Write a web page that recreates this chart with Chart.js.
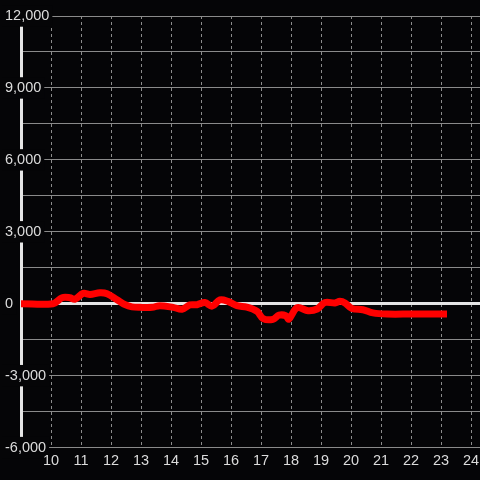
<!DOCTYPE html>
<html>
<head>
<meta charset="utf-8">
<script src="https://cdn.jsdelivr.net/npm/chart.js@4/dist/chart.umd.min.js"></script>
<style>
  html, body { margin: 0; padding: 0; background: #050507; }
  canvas { display: block; }
</style>
</head>
<body>
<canvas id="chart" width="480" height="480"></canvas>
<script>
// hour of day and running balance
const hours = [9.0, 10.07, 10.37, 10.63, 10.8, 11.07, 11.3, 11.63, 11.87, 12.2, 12.47, 12.7, 12.97, 13.37, 13.63,
    14.07, 14.37, 14.63, 14.87, 15.13, 15.37, 15.63, 15.9, 16.2, 16.53, 16.87, 17.07, 17.4, 17.6, 17.83, 17.93,
    18.2, 18.57, 18.87, 19.13, 19.47, 19.63, 19.8, 20.03, 20.4, 20.73, 21.2, 22.0, 23.2];
const balance = [0, 0, 250, 250, 190, 430, 390, 460, 420, 170, -40, -130, -150, -150, -80,
    -150, -230, -50, -40, 50, -100, 160, 100, -80, -140, -320, -620, -650, -480, -500, -640,
    -170, -290, -220, 50, 30, 100, 30, -200, -250, -380, -430, -430, -430];

const yMin = -6000;
const yMax = 12000;
const yStep = 1500;
const xMin = 9;
const xMax = 24.3;

const bg = '#050507';
const textColor = '#dcdcdc';

const ctx = document.getElementById('chart').getContext('2d');
const chart = new Chart(ctx, {
    type: 'line',
    data: {
        datasets: [{
            data: hours.map((h, i) => ({ x: h, y: balance[i] })),
            borderColor: '#ff0000',
            borderWidth: 7,
            pointRadius: 0,
            tension: 0.35,
            borderJoinStyle: 'round',
            fill: false
        }]
    },
    options: {
        responsive: false,
        animation: false,
        layout: { padding: { left: 5, top: 16, right: 0, bottom: 5 } },
        plugins: {
            legend: { display: false },
            tooltip: { enabled: false }
        },
        scales: {
            x: {
                type: 'linear',
                min: xMin,
                max: xMax,
                afterFit: (axis) => { axis.paddingLeft = 0; axis.paddingRight = 0; },
                grid: {
                    color: (c) => (c.tick && c.tick.value === xMin) ? 'rgba(0,0,0,0)' : '#8c8c8c',
                    lineWidth: 1,
                    drawTicks: false
                },
                border: { display: false, dash: [3, 3] },
                ticks: {
                    z: 1,
                    stepSize: 1,
                    includeBounds: false,
                    padding: 5,
                    color: textColor,
                    font: { family: 'Liberation Sans', size: 14.5 },
                    maxRotation: 0,
                    callback: (v) => v === xMin ? '' : v
                }
            },
            y: {
                min: yMin,
                max: yMax,
                afterFit: (axis) => { axis.width = 16; },
                grid: {
                    color: (c) => (c.tick && c.tick.value === 0) ? '#e6e6e6' : '#8a8a8a',
                    lineWidth: (c) => (c.tick && c.tick.value === 0) ? 3 : 1,
                    drawTicks: false
                },
                border: { display: true, color: '#e6e6e6', width: 3 },
                ticks: {
                    stepSize: yStep,
                    mirror: true,
                    crossAlign: 'near',
                    padding: -16,
                    color: textColor,
                    font: { family: 'Liberation Sans', size: 14.5 },
                    showLabelBackdrop: (c) => c.tick && c.tick.value % 3000 === 0,
                    backdropColor: bg,
                    backdropPadding: { top: 2, bottom: 2, left: 3, right: 3 },
                    callback: (v) => v % 3000 === 0 ? v.toLocaleString('en-US') : ''
                }
            }
        }
    }
});
</script>
</body>
</html>
